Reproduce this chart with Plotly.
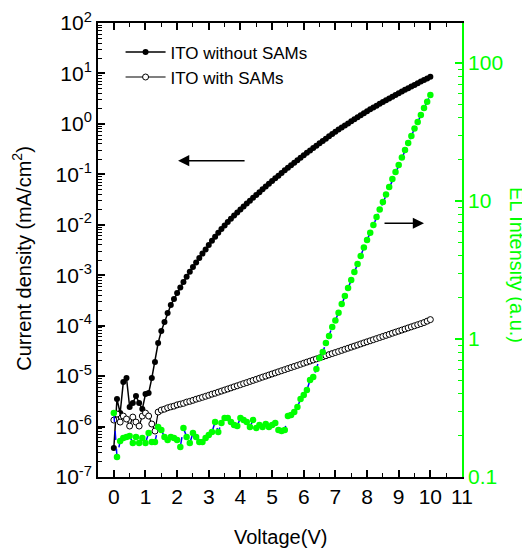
import plotly.graph_objects as go

voltage = [round(0.1 * i, 1) for i in range(101)]

# log10 of current density (mA/cm^2), ITO without SAMs (filled circles)
log_j_without = [
    -6.426, -5.455, -5.732, -5.118, -5.038, -5.613, -5.534, -5.395, -5.534, -5.653,
    -5.355, -5.336, -5.038, -4.721, -4.344, -4.106, -3.928, -3.750, -3.591, -3.472,
    -3.353, -3.242, -3.135, -3.032, -2.933, -2.838, -2.746, -2.657, -2.571, -2.488,
    -2.400, -2.318, -2.238, -2.160, -2.086, -2.015, -1.946, -1.880, -1.816, -1.755,
    -1.695, -1.637, -1.579, -1.522, -1.466, -1.410, -1.354, -1.298, -1.243, -1.187,
    -1.133, -1.079, -1.026, -0.974, -0.921, -0.870, -0.819, -0.770, -0.720, -0.671,
    -0.622, -0.573, -0.526, -0.478, -0.432, -0.385, -0.338, -0.293, -0.247, -0.202,
    -0.156, -0.113, -0.072, -0.030, 0.010, 0.051, 0.092, 0.131, 0.171, 0.211,
    0.250, 0.288, 0.325, 0.361, 0.397, 0.433, 0.468, 0.504, 0.539, 0.574,
    0.607, 0.641, 0.675, 0.707, 0.740, 0.773, 0.805, 0.838, 0.870, 0.902,
    0.934,
]

# log10 of current density (mA/cm^2), ITO with SAMs (open circles)
log_j_with = [
    -5.871, -5.752, -5.911, -5.792, -5.851, -5.990, -5.812, -5.911, -5.990, -5.792,
    -5.732, -5.792, -5.950, -6.089, -5.712, -5.673, -5.655, -5.628, -5.610, -5.595,
    -5.570, -5.555, -5.540, -5.515, -5.500, -5.480, -5.458, -5.440, -5.420, -5.400,
    -5.380, -5.358, -5.340, -5.318, -5.297, -5.276, -5.255, -5.234, -5.212, -5.191,
    -5.170, -5.148, -5.128, -5.106, -5.085, -5.064, -5.042, -5.020, -5.000, -4.978,
    -4.957, -4.936, -4.914, -4.893, -4.872, -4.850, -4.829, -4.808, -4.787, -4.766,
    -4.744, -4.723, -4.702, -4.680, -4.659, -4.638, -4.617, -4.596, -4.574, -4.553,
    -4.532, -4.511, -4.490, -4.468, -4.447, -4.426, -4.405, -4.384, -4.362, -4.341,
    -4.320, -4.299, -4.278, -4.256, -4.235, -4.214, -4.193, -4.172, -4.150, -4.129,
    -4.108, -4.087, -4.066, -4.044, -4.023, -4.002, -3.981, -3.960, -3.938, -3.910,
    -3.880,
]

# log10 of EL intensity (a.u.)
log_el = [
    -0.536, -0.855, -0.739, -0.717, -0.710, -0.703, -0.754, -0.710, -0.754, -0.717,
    -0.754, -0.681, -0.746, -0.746, -0.638, -0.659, -0.710, -0.732, -0.710, -0.717,
    -0.732, -0.783, -0.645, -0.710, -0.754, -0.681, -0.710, -0.746, -0.746, -0.717,
    -0.696, -0.674, -0.601, -0.674, -0.609, -0.572, -0.572, -0.601, -0.623, -0.630,
    -0.572, -0.587, -0.601, -0.638, -0.587, -0.645, -0.623, -0.638, -0.616, -0.638,
    -0.623, -0.609, -0.659, -0.667, -0.659, -0.558, -0.551, -0.529, -0.493, -0.435,
    -0.406, -0.370, -0.297, -0.275, -0.217, -0.138, -0.094, -0.029, 0.022, 0.087,
    0.134, 0.191, 0.254, 0.312, 0.370, 0.428, 0.486, 0.544, 0.601, 0.663,
    0.717, 0.770, 0.826, 0.884, 0.938, 0.993, 1.047, 1.101, 1.159, 1.210,
    1.261, 1.315, 1.370, 1.420, 1.471, 1.525, 1.572, 1.623, 1.674, 1.720,
    1.768,
]

j_without = [10 ** v for v in log_j_without]
j_with = [10 ** v for v in log_j_with]
el = [10 ** v for v in log_el]

x_ticks = list(range(0, 12))
x_minor = [i + 0.5 for i in range(0, 11)]
left_exps = list(range(-7, 3))
left_tickvals = [10.0 ** e for e in left_exps]
left_ticktext = ["10<sup>%d</sup>" % e for e in left_exps]
left_minor = [m * 10.0 ** e for e in range(-7, 2) for m in range(2, 10)]
right_tickvals = [0.1, 1, 10, 100]
right_ticktext = ["0.1", "1", "10", "100"]
right_minor = [m * 10.0 ** e for e in range(-1, 3) for m in range(2, 10) if m * 10.0 ** e < 195]

GREEN = "#00FF00"
FONT = "Arial, Liberation Sans, sans-serif"

fig = go.Figure()

fig.add_trace(go.Scatter(
    x=voltage, y=j_without, name="ITO without SAMs", mode="lines+markers",
    line=dict(color="black", width=1.5),
    marker=dict(symbol="circle", size=6, color="black", line=dict(width=0)),
))
fig.add_trace(go.Scatter(
    x=voltage, y=j_with, name="ITO with SAMs", mode="lines+markers",
    line=dict(color="black", width=1.2),
    marker=dict(symbol="circle", size=6, color="white", line=dict(color="black", width=1)),
))
fig.add_trace(go.Scatter(
    x=voltage, y=el, name="EL", mode="lines+markers", yaxis="y2", showlegend=False,
    line=dict(color="#0000FF", width=1.5, dash="dash"),
    marker=dict(symbol="circle", size=6.5, color=GREEN, line=dict(width=0)),
))

fig.update_layout(
    width=522, height=541,
    margin=dict(l=90, r=68, t=15, b=72),
    paper_bgcolor="white", plot_bgcolor="white",
    font=dict(family=FONT, color="black", size=20),
    showlegend=True,
    legend=dict(x=0.062, y=0.975, xanchor="left", yanchor="top",
                bgcolor="rgba(0,0,0,0)", font=dict(size=17, family=FONT),
                itemwidth=40, tracegroupgap=0),
    xaxis=dict(
        range=[-0.5, 11], tickmode="array", tickvals=x_ticks, automargin=False,
        ticks="inside", ticklen=7, tickwidth=1.5, tickcolor="black",
        showline=True, linecolor="black", linewidth=1.8, mirror="ticks",
        showgrid=False, zeroline=False, tickfont=dict(size=21),
        minor=dict(tickmode="array", tickvals=x_minor, ticks="inside",
                   ticklen=4, tickwidth=1.2, tickcolor="black", showgrid=False),
    ),
    yaxis=dict(
        type="log", range=[-7, 2], tickmode="array", automargin=False,
        tickvals=left_tickvals, ticktext=left_ticktext,
        ticks="inside", ticklen=7, tickwidth=1.5, tickcolor="black",
        showline=True, linecolor="black", linewidth=1.8, mirror=False,
        showgrid=False, zeroline=False, tickfont=dict(size=21),
        minor=dict(tickmode="array", tickvals=left_minor, ticks="inside",
                   ticklen=4, tickwidth=1.2, tickcolor="black", showgrid=False),
    ),
    yaxis2=dict(
        type="log", range=[-1, 2.29], overlaying="y", side="right", automargin=False,
        tickmode="array", tickvals=right_tickvals, ticktext=right_ticktext,
        ticks="inside", ticklen=7, tickwidth=1.5, tickcolor=GREEN,
        showline=True, linecolor=GREEN, linewidth=1.8,
        showgrid=False, zeroline=False, tickfont=dict(size=21, color=GREEN),
        minor=dict(tickmode="array", tickvals=right_minor, ticks="inside",
                   ticklen=4, tickwidth=1.2, tickcolor=GREEN, showgrid=False),
    ),
    annotations=[
        dict(text="Voltage(V)", xref="paper", yref="paper", x=0.5, y=-0.132,
             xanchor="center", yanchor="middle", showarrow=False,
             font=dict(size=20, family=FONT)),
        dict(text="Current density (mA/cm<sup>2</sup>)", xref="paper", yref="paper",
             x=-0.21, y=0.482, xanchor="center", yanchor="middle", textangle=-90,
             showarrow=False, font=dict(size=20, family=FONT)),
        dict(text="EL Intensity (a.u.)", xref="paper", yref="paper",
             x=1.151, y=0.467, xanchor="center", yanchor="middle", textangle=90,
             showarrow=False, font=dict(size=20, family=FONT, color=GREEN)),
        dict(x=2.03, y=-0.73, xref="x", yref="y", ax=68, ay=0, axref="pixel", ayref="pixel",
             text="", showarrow=True, arrowhead=2, arrowsize=1.4, arrowwidth=1.6,
             arrowcolor="black", standoff=0),
        dict(x=9.8, y=-1.97, xref="x", yref="y", ax=-41, ay=0, axref="pixel", ayref="pixel",
             text="", showarrow=True, arrowhead=2, arrowsize=1.4, arrowwidth=1.6,
             arrowcolor="black", standoff=0),
    ],
)

fig.write_html("out.html")
